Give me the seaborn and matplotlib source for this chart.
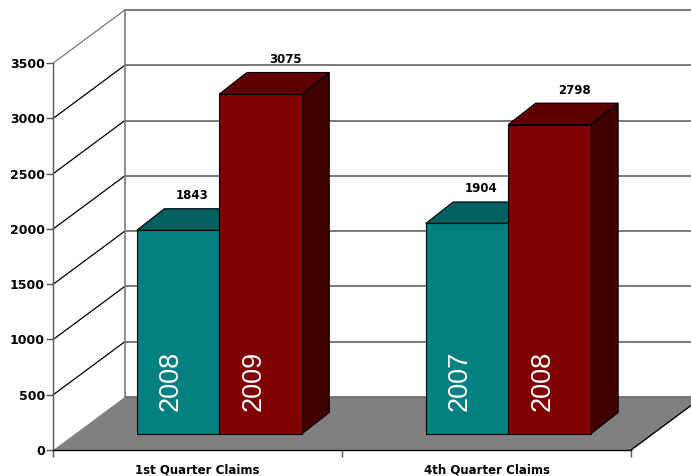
import numpy as np
import pandas as pd
import matplotlib
matplotlib.use("Agg")
import matplotlib.pyplot as plt
import matplotlib.transforms as mtransforms
from matplotlib.patches import Polygon
import seaborn as sns

# ---- data -------------------------------------------------------------
quarters = ["1st Quarter Claims", "4th Quarter Claims"]
slots = ["first", "second"]
years = [["2008", "2009"], ["2007", "2008"]]
claims = [[1843, 3075], [1904, 2798]]
y_ticks = [0, 500, 1000, 1500, 2000, 2500, 3000, 3500]

front_colors = ["#008080", "#800000"]
top_colors = ["#005f5f", "#5f0000"]
side_colors = ["#004040", "#400000"]

df = pd.DataFrame({
    "quarter": np.repeat(quarters, len(slots)),
    "slot": slots * len(quarters),
    "claims": [c for group in claims for c in group],
})

sns.set_theme(style="white")
plt.rcParams["font.family"] = ["DejaVu Sans"]

# ---- figure / front plane of the 3-D box --------------------------------
W, H, DPI = 691, 476, 100
fig = plt.figure(figsize=(W / DPI, H / DPI), dpi=DPI)
fig.patch.set_facecolor("white")

left_px, right_px = 53.3, 631.0
zero_px, top_px = 450.0, 63.0
ax = fig.add_axes([left_px / W, (H - zero_px) / H,
                   (right_px - left_px) / W, (zero_px - top_px) / H])

sns.barplot(data=df, x="quarter", y="claims", hue="slot", hue_order=slots,
            palette=front_colors, saturation=1, width=0.571,
            edgecolor="black", linewidth=0.8, legend=False, ax=ax)
bars = sorted(ax.patches, key=lambda p: p.get_x())

ax.set_xlim(-0.5, 1.5)
ax.set_ylim(0, 3500)
ax.set_facecolor("none")
ax.set_xlabel("")
ax.set_ylabel("")

# pixel -> data scale factors
sx = (right_px - left_px) / 2.0
sy = (zero_px - top_px) / 3500.0


def depth(px_x, px_y):
    return px_x / sx, px_y / sy


def shifted(dx_px, dy_px):
    return ax.transData + mtransforms.ScaledTranslation(
        dx_px / DPI, dy_px / DPI, fig.dpi_scale_trans)


# ---- walls and floor -----------------------------------------------------
bx, by = depth(71.5, 53.0)
floor = Polygon([(-0.5, 0), (1.5, 0), (1.5 + bx, by), (-0.5 + bx, by)],
                closed=True, facecolor="#808080", edgecolor="none",
                zorder=0.5, clip_on=False)
ax.add_patch(floor)
ax.plot([1.5, 1.5 + bx], [0, by], color="black", lw=1.0, zorder=0.7,
        clip_on=False)

for v in y_ticks:
    # gridline on the back wall
    ax.plot([-0.5 + bx, 3.0], [v + by, v + by], color="#6e6e6e", lw=1.3,
            zorder=0.6, clip_on=False)
    # gridline on the side wall
    if v > 0:
        ax.plot([-0.5, -0.5 + bx], [v, v + by],
                color="#7a7a7a" if v == y_ticks[-1] else "black",
                lw=0.9, zorder=0.6, clip_on=False)
ax.plot([-0.5 + bx, -0.5 + bx], [by, 3500 + by], color="#7a7a7a", lw=1.2,
        zorder=0.6, clip_on=False)

# ---- 3-D bars ------------------------------------------------------------
bar_dx, bar_dy = 21.6, 16.0          # bars stand a little behind the front
top_dx, top_dy = depth(27.5, 21.5)   # bar thickness
bar_trans = shifted(bar_dx, bar_dy)

for i, p in enumerate(bars):
    g, s = divmod(i, len(slots))
    x, w, h = p.get_x(), p.get_width(), p.get_height()
    z = 2 + i
    p.set_transform(bar_trans)
    p.set_zorder(z + 0.5)
    p.set_clip_on(False)

    side = Polygon([(x + w, 0), (x + w + top_dx, top_dy),
                    (x + w + top_dx, h + top_dy), (x + w, h)],
                   closed=True, facecolor=side_colors[s], edgecolor="black",
                   lw=0.8, transform=bar_trans, zorder=z, clip_on=False)
    top = Polygon([(x, h), (x + w, h), (x + w + top_dx, h + top_dy),
                   (x + top_dx, h + top_dy)],
                  closed=True, facecolor=top_colors[s], edgecolor="black",
                  lw=0.8, transform=bar_trans, zorder=z, clip_on=False)
    ax.add_patch(side)
    ax.add_patch(top)

    # year written up the front face
    ax.text(x + w / 2, 0, years[g][s], rotation=90, ha="center", va="bottom",
            color="white", fontsize=19.5, family=["Liberation Sans"],
            transform=shifted(bar_dx - 7, bar_dy + 23), zorder=z + 1)

    # value label above the bar
    label_dx = 13.75 if s == 0 else 25.0
    ax.text(x + w / 2, h, f"{int(round(h))}", ha="center", va="center",
            fontsize=8.5, fontweight="bold", color="black",
            transform=shifted(bar_dx + label_dx, bar_dy + 21.5 + 13),
            zorder=z + 1)

# ---- axes decoration -----------------------------------------------------
for side_name in ("top", "right"):
    ax.spines[side_name].set_visible(False)
ax.spines["left"].set_color("#555555")
ax.spines["left"].set_linewidth(1.0)
ax.spines["bottom"].set_color("black")
ax.spines["bottom"].set_linewidth(1.0)
ax.spines["left"].set_zorder(1)
ax.spines["bottom"].set_zorder(1)

ax.set_yticks(y_ticks)
ax.set_yticklabels([str(v) for v in y_ticks], fontsize=9, fontweight="bold",
                   color="black")
ax.tick_params(axis="y", direction="out", length=5, width=1,
               color="#555555", pad=1, left=True)

ax.set_xticks([0, 1])
ax.set_xticklabels(quarters, fontsize=8.5, fontweight="bold", color="black")
ax.set_xticks([-0.5, 0.5, 1.5], minor=True)
ax.tick_params(axis="x", which="major", length=0, pad=10)
ax.tick_params(axis="x", which="minor", direction="out", length=5, width=1,
               color="#555555", bottom=True)
ax.grid(False)

fig.savefig("out.png", dpi=DPI, facecolor="white")
